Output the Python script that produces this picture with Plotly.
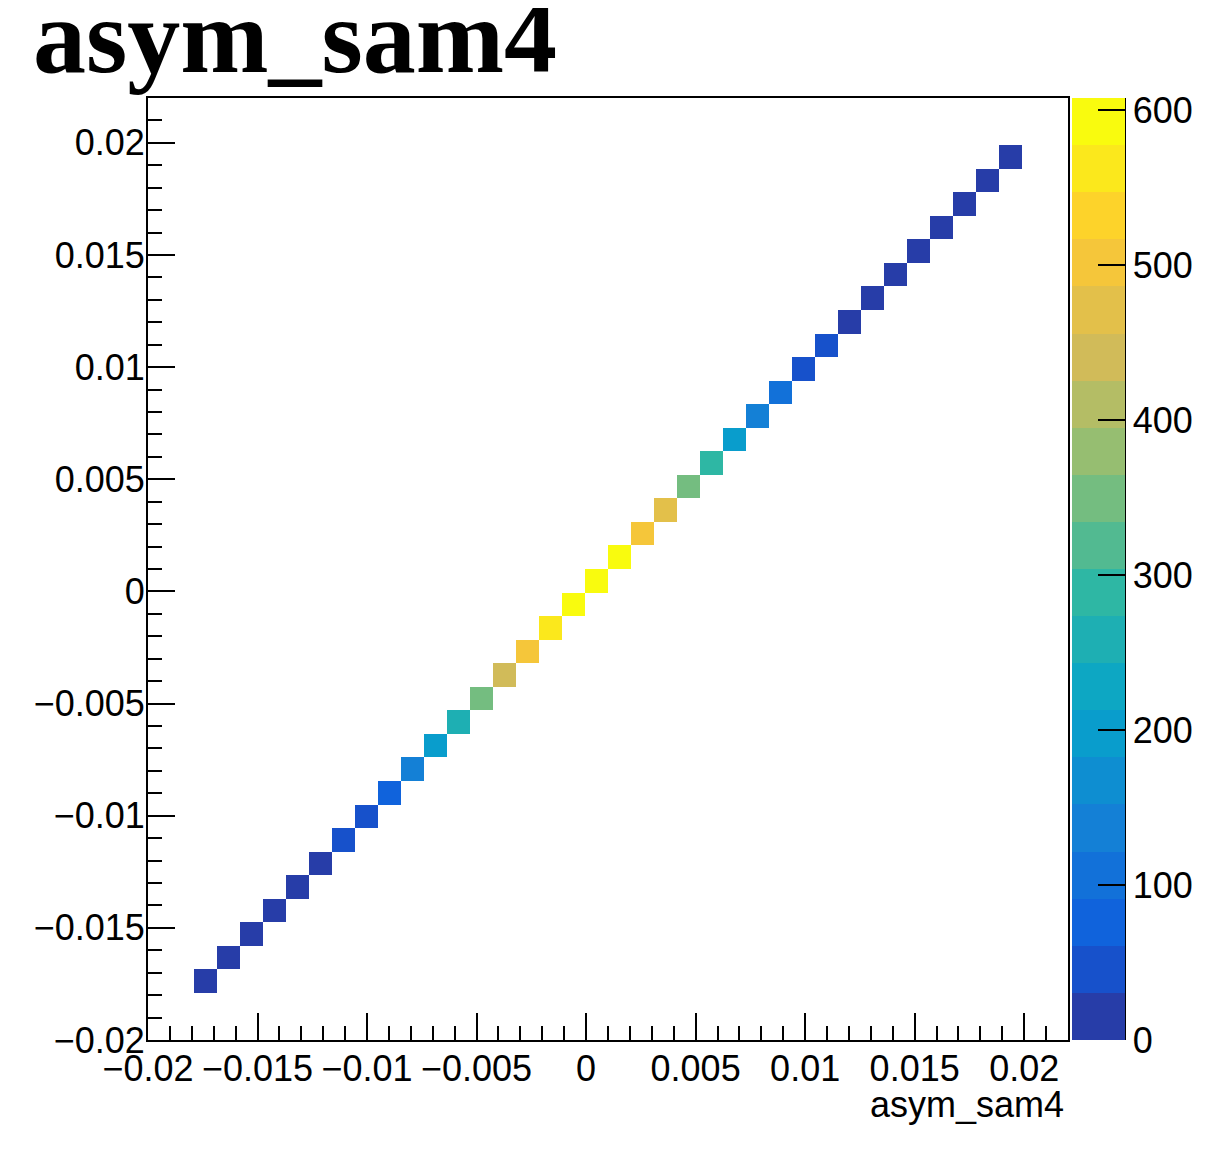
import numpy as np
import plotly.graph_objects as go

# ---- data (TH2 asym_sam4 vs asym_sam4, 40x40 bins on [-0.02, 0.022]) ----
x_min = -0.02
x_max = 0.022
n_bins = 40
# diagonal bins that are filled (x bin == y bin) and their contents
bin_index = [2, 3, 4, 5, 6, 7, 8, 9, 10, 11, 12, 13, 14, 15, 16, 17, 18, 19, 20,
             21, 22, 23, 24, 25, 26, 27, 28, 29, 30, 31, 32, 33, 34, 35, 36, 37]
counts = [12, 15, 18, 20, 24, 28, 42, 50, 75, 125, 195, 262, 345, 440, 505, 560, 600, 608, 595,
          505, 470, 345, 282, 195, 135, 105, 45, 55, 25, 20, 18, 15, 12, 10, 8, 5]
z_max = 608
colorbar_ticks = [0, 100, 200, 300, 400, 500, 600]
title_text = "asym_sam4"
x_title = "asym_sam4"

# ---- build histogram grid ----
bw = (x_max - x_min) / n_bins
centers = x_min + (np.arange(n_bins) + 0.5) * bw
z = [[None] * n_bins for _ in range(n_bins)]
for i, c in zip(bin_index, counts):
    z[i][i] = c

# ---- ROOT kBird palette, 20 contour bands ----
stops = [0.0, 0.125, 0.25, 0.375, 0.5, 0.625, 0.75, 0.875, 1.0]
red = [0.2082, 0.0592, 0.0780, 0.0232, 0.1802, 0.5301, 0.8186, 0.9956, 0.9764]
green = [0.1664, 0.3599, 0.5041, 0.6419, 0.7178, 0.7492, 0.7328, 0.7862, 0.9832]
blue = [0.5293, 0.8684, 0.8385, 0.7914, 0.6425, 0.4662, 0.3499, 0.1968, 0.0539]
ncol = 255
ndiv = 20


def bird(f):
    r = np.interp(f, stops, red)
    g = np.interp(f, stops, green)
    b = np.interp(f, stops, blue)
    return "rgb(%d,%d,%d)" % (round(r * 255), round(g * 255), round(b * 255))


colorscale = []
for i in range(ndiv):
    idx = int((i + 0.99) * ncol / ndiv)
    col = bird(min(idx, ncol - 1) / (ncol - 1))
    colorscale.append([i / ndiv, col])
    colorscale.append([(i + 1) / ndiv, col])

# page body has an 8px margin: work in figure pixels = page pixels - 8
OFF = 8
W, H = 1216 - 2 * OFF, 1149 - 2 * OFF
L, R, T, B = 148 - OFF, 1068 - OFF, 98 - OFF, 1040 - OFF
pw, ph = R - L, B - T

fig = go.Figure()
fig.add_trace(go.Heatmap(
    x=centers, y=centers, z=z,
    zmin=0, zmax=z_max,
    colorscale=colorscale,
    hoverongaps=False,
    colorbar=dict(
        x=(1072 - OFF - L) / pw, xanchor="left", xpad=0,
        y=0, yanchor="bottom", ypad=0,
        len=1, lenmode="fraction",
        thickness=53, thicknessmode="pixels",
        outlinewidth=0,
        tickvals=colorbar_ticks,
        ticks="inside", ticklen=27, tickwidth=2, tickcolor="black",
        tickfont=dict(family="Liberation Sans", size=36, color="black"),
    ),
))

axis_common = dict(
    range=[x_min, x_max],
    dtick=0.005, tick0=0,
    ticks="inside", ticklen=27, tickwidth=2, tickcolor="black",
    minor=dict(dtick=0.001, tick0=0, ticks="inside", ticklen=14, tickwidth=2,
               tickcolor="black", showgrid=False),
    showgrid=False, zeroline=False,
    showline=True, linecolor="black", linewidth=2, mirror=True,
    tickfont=dict(family="Liberation Sans", size=36, color="black"),
)

fig.update_layout(
    width=W, height=H,
    margin=dict(l=L, r=W - R, t=T, b=H - B, autoexpand=False),
    plot_bgcolor="white", paper_bgcolor="white",
    xaxis=dict(axis_common, ticklabelstandoff=-4),
    yaxis=dict(axis_common, ticklabelstandoff=-6),
    showlegend=False,
)

# colorbar axis line on the right edge
fig.add_shape(type="line", xref="paper", yref="paper",
              x0=(1125 - OFF - L) / pw, x1=(1125 - OFF - L) / pw, y0=0, y1=1,
              line=dict(color="black", width=2))

fig.add_annotation(text=title_text, xref="paper", yref="paper",
                   x=(31 - OFF - L) / pw, y=(B - (36 - OFF)) / ph, xanchor="left", yanchor="middle",
                   showarrow=False,
                   font=dict(family="Liberation Serif", size=106, color="black", weight="bold"))
fig.add_annotation(text=x_title, xref="paper", yref="paper",
                   x=(1066 - OFF - L) / pw, y=(B - (1104 - OFF)) / ph, xanchor="right", yanchor="middle",
                   showarrow=False,
                   font=dict(family="Liberation Sans", size=36, color="black"))

fig.write_html("out.html")
